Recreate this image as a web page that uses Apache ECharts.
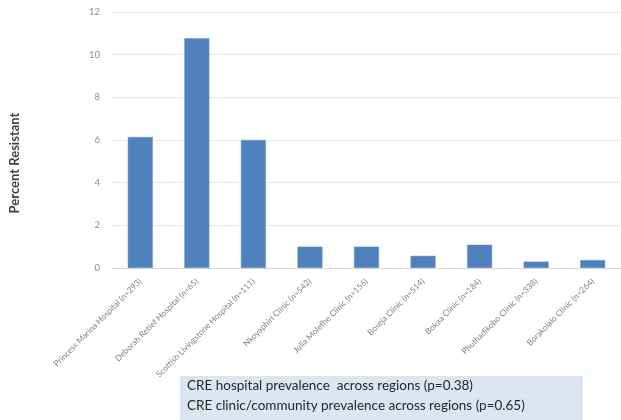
<!DOCTYPE html>
<html>
<head>
<meta charset="utf-8">
<script src="https://cdn.jsdelivr.net/npm/echarts@6/dist/echarts.min.js"></script>
<style>html,body{margin:0;padding:0;background:#fff;}#c{width:621px;height:420px;}</style>
</head>
<body>
<div id="c"></div>
<script>
var categories = [
  'Princess Marina Hospital (n=293)',
  'Deborah Retief Hospital (n=65)',
  'Scottish Livingstone Hospital (n=111)',
  'Nkoyaphiri Clinic (n=542)',
  'Julia Molefhe Clinic (n=156)',
  'Boseja Clinic (n=514)',
  'Bokaa Clinic (n=184)',
  'Phuthadikobo Clinic (n=338)',
  'Borakolalo Clinic (n=264)'
];
var percentResistant = [6.14, 10.77, 6.0, 1.0, 1.0, 0.57, 1.09, 0.3, 0.37];
var yAxisTitle = 'Percent Resistant';
var noteLines = [
  'CRE hospital prevalence  across regions (p=0.38)',
  'CRE clinic/community prevalence across regions (p=0.65)'
];

var chart = echarts.init(document.getElementById('c'), null, {renderer: 'canvas'});
chart.setOption({
  animation: false,
  backgroundColor: '#ffffff',
  grid: {left: 112, right: 0, top: 12, bottom: 152, containLabel: false},
  xAxis: {
    type: 'category',
    data: categories,
    axisLine: {lineStyle: {color: '#d9d9d9', width: 1}},
    axisTick: {show: false},
    axisLabel: {
      rotate: 45, interval: 0, margin: 12,
      color: '#7f7f7f', fontSize: 8.3, fontFamily: 'Lato'
    }
  },
  yAxis: {
    type: 'value', min: 0, max: 12, interval: 2,
    axisLine: {show: false}, axisTick: {show: false},
    axisLabel: {color: '#8c8c8c', fontSize: 9.5, fontFamily: 'Lato', margin: 12},
    splitLine: {lineStyle: {color: '#e8e8e8', width: 1}}
  },
  series: [{
    type: 'bar',
    data: percentResistant,
    barWidth: 25,
    itemStyle: {color: '#4f81bd', borderColor: '#6b96c8', borderWidth: 0.5}
  }],
  graphic: [
    {type: 'text', x: 15, y: 163, rotation: Math.PI / 2,
     style: {text: yAxisTitle, fill: '#404040', font: 'bold 13px Lato', textAlign: 'center', textVerticalAlign: 'middle'}},
    {type: 'rect', shape: {x: 180, y: 376, width: 403, height: 50}, style: {fill: '#dce6f2'}},
    {type: 'text', x: 187, y: 386, style: {text: noteLines[0], fill: '#262626', font: '13.5px Lato', textVerticalAlign: 'middle'}},
    {type: 'text', x: 187, y: 406, style: {text: noteLines[1], fill: '#262626', font: '13.5px Lato', textVerticalAlign: 'middle'}}
  ]
});
</script>
</body>
</html>
